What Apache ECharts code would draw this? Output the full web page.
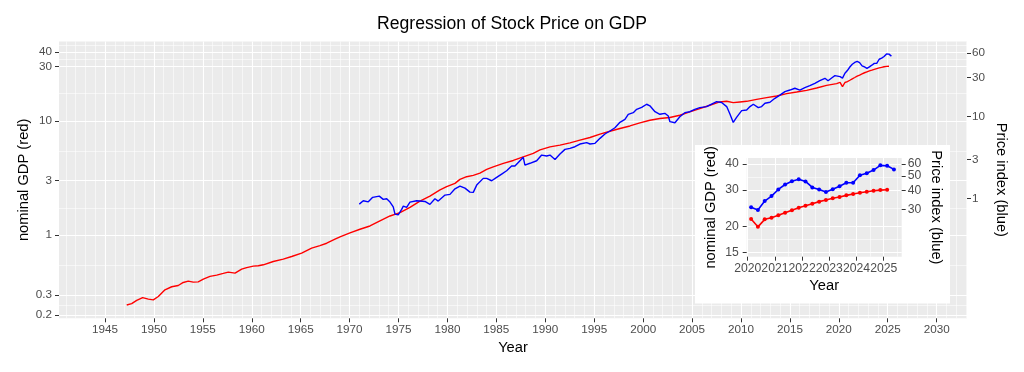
<!DOCTYPE html>
<html><head><meta charset="utf-8">
<script src="https://cdn.jsdelivr.net/npm/echarts@6/dist/echarts.min.js"></script>
<style>html,body{margin:0;padding:0;background:#fff}#c{width:1024px;height:372px}</style>
</head><body><div id="c"></div>
<script>
// ---- data ----
const gdpYears = [1947.22,1947.73,1948.24,1948.85,1949.43,1949.94,1950.45,1951.13,1951.82,1952.49,
  1953.0,1953.51,1954.02,1954.53,1955.05,1955.73,1956.42,1957.09,1957.6,1958.29,
  1958.97,1959.48,1960.16,1960.67,1961.18,1962.2,1963.22,1964.08,1965.1,1966.12,
  1966.97,1967.66,1968.51,1969.02,1970.04,1971.06,1972.08,1973.1,1974.13,1975.15,
  1976.17,1977.19,1978.21,1979.24,1979.92,1980.77,1981.28,1981.96,1982.64,1983.32,
  1984.01,1984.68,1985.71,1986.73,1987.75,1988.77,1989.46,1990.48,1991.5,1992.52,
  1993.54,1994.57,1995.59,1996.61,1997.63,1998.65,1999.67,2000.69,2001.71,2002.73,
  2003.75,2004.77,2005.79,2006.81,2007.83,2008.54,2009.21,2009.89,2010.58,2011.6,
  2012.62,2013.65,2014.67,2015.69,2016.71,2017.73,2018.75,2019.77];
const gdpValues = [0.245,0.252,0.269,0.284,0.276,0.272,0.291,0.333,0.354,0.363,
  0.386,0.397,0.389,0.391,0.413,0.436,0.448,0.463,0.475,0.466,
  0.505,0.521,0.536,0.540,0.551,0.589,0.617,0.651,0.697,0.771,
  0.811,0.851,0.923,0.967,1.05,1.127,1.205,1.333,1.474,1.575,
  1.754,1.99,2.20,2.49,2.66,2.84,3.08,3.25,3.34,3.50,
  3.77,3.97,4.25,4.51,4.85,5.2,5.58,5.93,6.14,6.43,
  6.79,7.16,7.66,8.13,8.59,9.04,9.61,10.14,10.49,10.71,
  11.22,11.99,12.83,13.71,14.66,14.86,14.46,14.66,14.85,15.46,
  16.0,16.53,17.34,17.9,18.5,19.4,20.48,21.2];
const priceYears = [1970.99,1971.4,1971.91,1972.36,1973.03,1973.44,1973.79,1974.13,1974.46,1974.64,
  1974.97,1975.32,1975.49,1975.83,1976.17,1976.85,1977.7,1978.21,1978.72,1979.06,
  1979.75,1980.26,1980.77,1981.28,1981.79,1982.3,1982.64,1982.99,1983.66,1984.01,
  1984.52,1985.03,1985.54,1986.05,1986.56,1986.9,1987.41,1987.75,1987.92,1988.43,
  1989.12,1989.63,1990.14,1990.48,1990.99,1991.5,1992.01,1992.52,1993.03,1993.54,
  1994.23,1994.57,1995.08,1995.59,1996.1,1996.61,1997.12,1997.63,1998.14,1998.48,
  1998.99,1999.34,1999.85,2000.36,2000.69,2001.21,2001.71,2002.22,2002.57,2002.74,
  2003.25,2003.75,2004.26,2004.77,2005.28,2005.79,2006.49,2007.0,2007.51,2008.02,
  2008.54,2008.87,2009.21,2009.55,2010.07,2010.58,2010.92,2011.26,2011.77,2012.11,
  2012.45,2012.96,2013.47,2013.98,2014.49,2015.0,2015.51,2016.02,2016.53,2017.04,
  2017.55,2018.06,2018.58,2018.9,2019.3,2019.6];
const priceValues = [0.851,0.935,0.908,1.03,1.067,0.972,0.989,0.901,0.789,0.642,
  0.629,0.733,0.805,0.776,0.901,0.935,0.918,0.844,0.989,0.927,
  1.098,1.12,1.311,1.415,1.337,1.194,1.185,1.455,1.758,1.758,
  1.644,1.808,1.985,2.18,2.49,2.49,2.89,3.18,2.56,2.69,
  2.89,3.39,3.30,3.39,3.0,3.49,3.98,4.1,4.29,4.63,
  4.81,4.63,4.72,5.43,6.14,6.68,7.33,8.53,9.29,10.7,
  11.2,12.3,13.0,14.2,13.6,11.5,10.7,11.0,10.2,8.69,
  8.44,10.0,11.2,11.5,12.3,12.9,13.3,14.3,15.3,14.9,
  13.3,10.8,8.5,9.8,11.85,12.1,13.3,14.2,12.9,13.3,
  14.6,15.0,16.8,18.4,20.3,21.2,22.3,21.2,22.7,24.0,
  25.6,27.6,29.5,27.5,30.0,31.8];
// quarterly points 2020Q1 .. 2025Q2 (inset)
const quarterYears = [2020.125,2020.375,2020.625,2020.875,2021.125,2021.375,2021.625,2021.875,
  2022.125,2022.375,2022.625,2022.875,2023.125,2023.375,2023.625,2023.875,
  2024.125,2024.375,2024.625,2024.875,2025.125,2025.375];
const quarterGdp = [21.76,19.97,21.7,22.1,22.7,23.36,24.0,24.67,25.2,25.8,26.4,26.9,
  27.4,27.8,28.3,28.7,29.1,29.45,29.8,30.0,30.1];
const quarterPrice = [30.9,29.7,34.0,36.7,40.6,43.8,46.1,47.5,45.9,41.9,40.6,39.1,
  40.8,42.7,45.0,45.0,50.5,52.1,54.6,58.7,58.4,55.2];

// tick labels
const mainYearTicks = [1945,1950,1955,1960,1965,1970,1975,1980,1985,1990,1995,2000,2005,2010,2015,2020,2025,2030];
const gdpTicks = [0.2,0.3,1,3,10,30,40];
const priceTicks = [1,3,10,30,60];
const insetYearTicks = [2020,2021,2022,2023,2024,2025];
const insetGdpTicks = [15,20,30,40];
const insetPriceTicks = [30,40,50,60];

// minor grid positions
const mainYearMinor = [];
for (let y = 1941; y <= 2033; y++) if (y % 5 !== 0) mainYearMinor.push(y);
const gdpMinor = [0.245,0.548,1.732,5.477,17.32,34.64,46.19];
const insetYearMinor = [2020.5,2021.5,2022.5,2023.5,2024.5,2025.5];
const insetGdpMinor = [17.32,24.49,34.64];

const zip = (a, b) => b.map((v, i) => [a[i], v]);
const gdpSeries = zip(gdpYears.concat(quarterYears.slice(0, quarterGdp.length)), gdpValues.concat(quarterGdp));
const priceSeries = zip(priceYears.concat(quarterYears), priceValues.concat(quarterPrice));
const insetGdpSeries = zip(quarterYears, quarterGdp);
const insetPriceSeries = zip(quarterYears, quarterPrice);

const FONT = '"Liberation Sans", Arial, Helvetica, sans-serif';
const TICK = {color:'#333333', width:1};
const NAME = {color:'#000000', fontSize:14.7, fontFamily:FONT};
const fmt = v => String(+Number(v).toPrecision(6));

function majorAxis(o) {
  return Object.assign({
    axisLine:{show:false},
    axisTick:{show:true, length:4, lineStyle:TICK, customValues:o.ticks},
    axisLabel:{customValues:o.ticks, formatter:fmt, margin:o.margin, hideOverlap:false,
      color:'#4d4d4d', fontSize:o.fs || 11.7, fontFamily:FONT},
    splitLine:{show:o.split !== false, lineStyle:{color:'#ffffff', width:1.1}},
    nameLocation:'middle', nameTextStyle:NAME, nameMoveOverlap:false
  }, o.extra);
}
function minorAxis(o) {
  return Object.assign({
    axisLine:{show:false},
    axisTick:{show:false, customValues:o.ticks},
    axisLabel:{show:false, customValues:o.ticks},
    splitLine:{show:true, lineStyle:{color:'#ffffff', width:0.55}}
  }, o.extra);
}

const option = {
  animation:false,
  backgroundColor:'#ffffff',
  title:{text:'Regression of Stock Price on GDP', left:'center', top:10,
    textStyle:{fontSize:17.6, fontWeight:'normal', color:'#000', fontFamily:FONT}},
  grid:[
    {left:59, top:41.4, width:908, height:276.9, show:true, backgroundColor:'#ebebeb', borderWidth:0, z:0, outerBoundsMode:'none'},
    {left:746.7, top:158, width:155, height:98.7, show:true, backgroundColor:'#ebebeb', borderWidth:0, z:6, outerBoundsMode:'none'}
  ],
  graphic:[{type:'rect', z:5, silent:true, shape:{x:695, y:145, width:255, height:158.5}, style:{fill:'#ffffff'}}],
  xAxis:[
    majorAxis({ticks:mainYearTicks, margin:5, extra:{type:'value', gridIndex:0, position:'bottom', min:1940.3, max:2033.1, name:'Year', nameGap:22, z:1}}),
    minorAxis({ticks:mainYearMinor, extra:{type:'value', gridIndex:0, position:'bottom', min:1940.3, max:2033.1, z:0}}),
    majorAxis({ticks:insetYearTicks, margin:6, fs:12.2, extra:{type:'value', gridIndex:1, position:'bottom', min:2019.963, max:2025.66, name:'Year', nameGap:22, z:7}}),
    minorAxis({ticks:insetYearMinor, extra:{type:'value', gridIndex:1, position:'bottom', min:2019.963, max:2025.66, z:7}})
  ],
  yAxis:[
    majorAxis({ticks:gdpTicks, margin:7, extra:{type:'log', logBase:10, gridIndex:0, position:'left', min:0.1875, max:49.66, name:'nominal GDP (red)', nameGap:28, z:1}}),
    majorAxis({ticks:priceTicks, margin:5, split:false, extra:{type:'log', logBase:10, gridIndex:0, position:'right', min:0.03406, max:83.5, name:'Price index (blue)', nameRotate:-90, nameGap:27, z:1}}),
    minorAxis({ticks:gdpMinor, extra:{type:'log', logBase:10, gridIndex:0, position:'left', min:0.1875, max:49.66, z:0}}),
    majorAxis({ticks:insetGdpTicks, margin:8, fs:12.2, extra:{type:'log', logBase:10, gridIndex:1, position:'left', min:14.35, max:42.79, name:'nominal GDP (red)', nameGap:28, z:7}}),
    majorAxis({ticks:insetPriceTicks, margin:6, fs:12.2, split:false, extra:{type:'log', logBase:10, gridIndex:1, position:'right', min:14.52, max:65.7, name:'Price index (blue)', nameRotate:-90, nameGap:27, z:7}}),
    minorAxis({ticks:insetGdpMinor, extra:{type:'log', logBase:10, gridIndex:1, position:'left', min:14.35, max:42.79, z:7}})
  ],
  series:[
    {type:'line', name:'GDP', xAxisIndex:0, yAxisIndex:0, data:gdpSeries, showSymbol:false, symbol:'none',
      lineStyle:{color:'#ff0000', width:1.4}, z:2},
    {type:'line', name:'Price', xAxisIndex:0, yAxisIndex:1, data:priceSeries, showSymbol:false, symbol:'none',
      lineStyle:{color:'#0000ff', width:1.4}, z:2},
    {type:'line', name:'GDP inset', xAxisIndex:2, yAxisIndex:3, data:insetGdpSeries, symbol:'circle', symbolSize:4,
      itemStyle:{color:'#ff0000'}, lineStyle:{color:'#ff0000', width:1.6}, z:8},
    {type:'line', name:'Price inset', xAxisIndex:2, yAxisIndex:4, data:insetPriceSeries, symbol:'circle', symbolSize:4,
      itemStyle:{color:'#0000ff'}, lineStyle:{color:'#0000ff', width:1.6}, z:8}
  ]
};
const chart = echarts.init(document.getElementById('c'), null, {renderer:'canvas'});
chart.setOption(option);
</script>
</body></html>
